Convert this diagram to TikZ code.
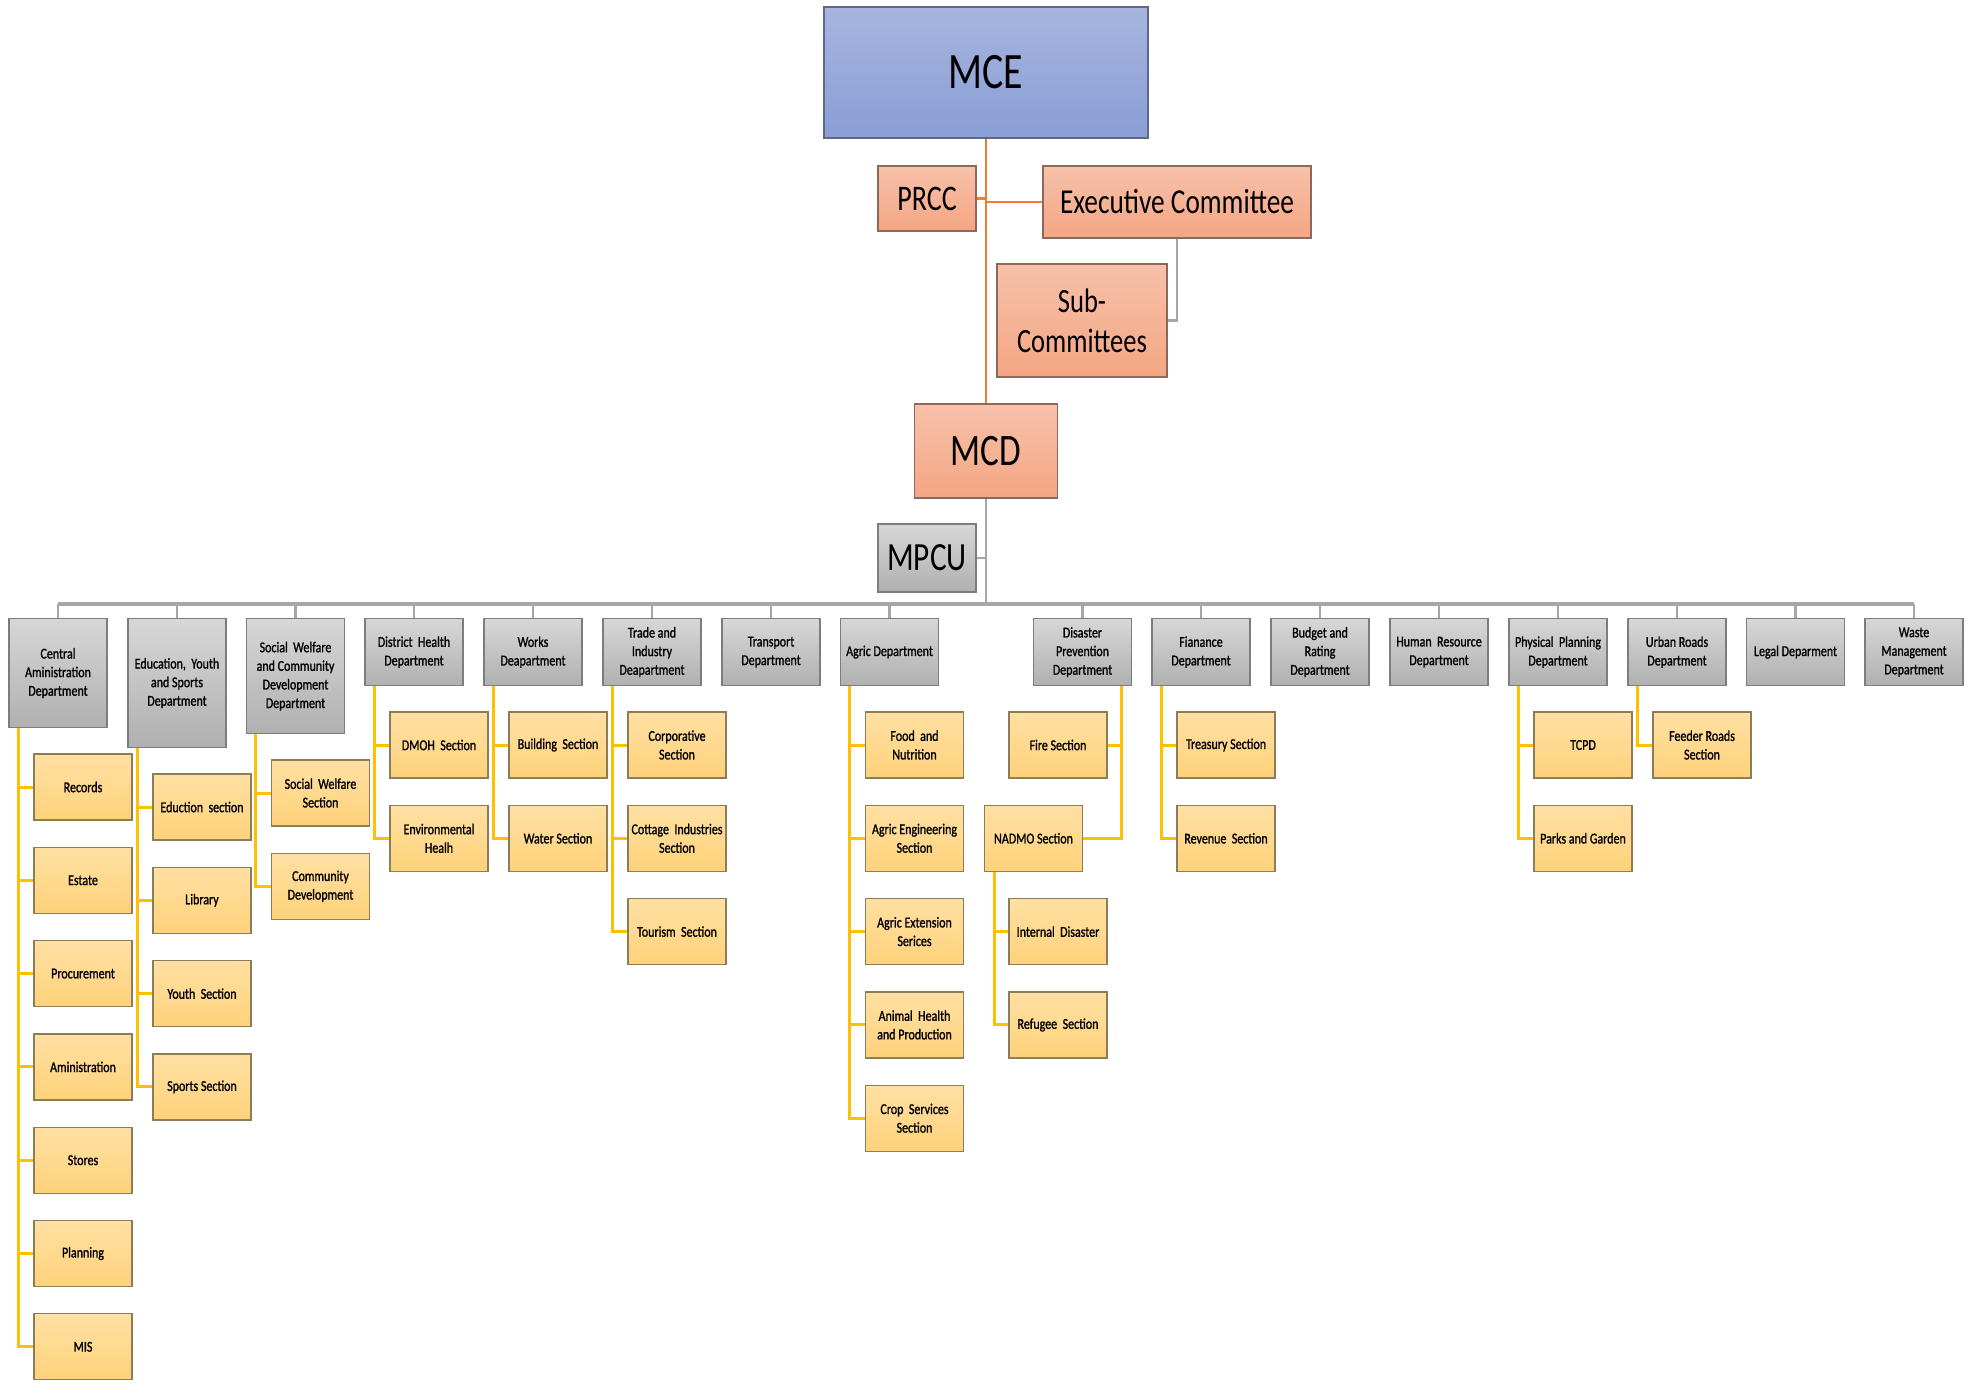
\documentclass[tikz,border=0pt]{standalone}
\usepackage{fontspec}
\newfontfamily\cf[FakeStretch=0.78]{Carlito}
\newfontfamily\cfs[FakeStretch=0.8,FakeBold=1.2]{Carlito}
\definecolor{mceT}{RGB}{167,181,223}
\definecolor{mceB}{RGB}{137,158,214}
\definecolor{mceD}{RGB}{95,105,135}
\definecolor{orT}{RGB}{247,193,170}
\definecolor{orB}{RGB}{244,166,131}
\definecolor{orD}{RGB}{140,105,90}
\definecolor{grT}{RGB}{215,215,215}
\definecolor{grB}{RGB}{176,176,176}
\definecolor{grD}{RGB}{125,125,125}
\definecolor{yeT}{RGB}{255,224,163}
\definecolor{yeB}{RGB}{255,210,122}
\definecolor{yeD}{RGB}{140,125,90}
\definecolor{lnO}{RGB}{237,125,49}
\definecolor{lnG}{RGB}{166,166,166}
\definecolor{lnY}{RGB}{255,192,0}
\tikzset{
  box/.style={rectangle, inner sep=0pt, align=center, line width=1.2pt},
  topbox/.style={box, top color=mceT, bottom color=mceB, draw=mceD},
  orbox/.style={box, top color=orT, bottom color=orB, draw=orD},
  mpbox/.style={box, top color=grT, bottom color=grB, draw=grD},
  dept/.style={box, top color=grT, bottom color=grB, draw=grD, minimum width=98pt, minimum height=67pt, anchor=north,
    font=\cfs\fontsize{15}{18.6}\selectfont},
  sect/.style={box, top color=yeT, bottom color=yeB, draw=yeD, minimum width=98pt, minimum height=66pt,
    font=\cfs\fontsize{15}{18.6}\selectfont},
  ol/.style={draw=lnO, line width=2.2pt},
  gl/.style={draw=lnG, line width=2.2pt},
  busline/.style={draw=lnG, line width=3.4pt},
  yl/.style={draw=lnY, line width=3pt},
}
\begin{document}
\begin{tikzpicture}[x=1pt,y=-1pt]
\useasboundingbox (0,0) rectangle (1969,1384);
% top part
\node[topbox, minimum width=324pt, minimum height=131pt, font=\cf\fontsize{51}{56}\selectfont] (mce) at (986,72.5) {MCE};
\node[orbox, minimum width=98pt, minimum height=65pt, font=\cf\fontsize{36}{40}\selectfont] (prcc) at (927,198.5) {PRCC};
\node[orbox, minimum width=268pt, minimum height=72pt, font=\cf\fontsize{35}{40}\selectfont] (exec) at (1177,202) {Executive Committee};
\node[orbox, minimum width=170pt, minimum height=113pt, font=\cf\fontsize{34}{40}\selectfont] (sub) at (1082,320.5) {Sub-\\Committees};
\node[orbox, minimum width=143pt, minimum height=94pt, font=\cf\fontsize{45}{50}\selectfont] (mcd) at (986,451) {MCD};
\node[mpbox, minimum width=98pt, minimum height=68pt, font=\cf\fontsize{40}{44}\selectfont] (mpcu) at (927,558) {MPCU};
\coordinate (busL) at (58,604);
\coordinate (busR) at (1914,604);
% connectors top
\draw[ol] (mce.south) -- (mce.south |- mcd.north);
\draw[ol] (prcc.east) -- (prcc.east -| mce.south);
\draw[ol] (exec.west) -- (exec.west -| mce.south);
\draw[gl] (exec.south) |- (sub.east);
\draw[gl] (mcd.south) -- (mcd.south |- busL);
\draw[gl] (mpcu.east) -- (mpcu.east -| mcd.south);
\draw[busline] (busL) -- (busR);
% departments
\node[dept, minimum height=109pt] (d1) at (58,618) {Central\\Aministration\\Department};
\node[dept, minimum height=129pt] (d2) at (177,618) {Education,\ \ Youth\\and Sports\\Department};
\node[dept, minimum height=115pt] (d3) at (295.5,618) {Social\ \ Welfare\\and Community\\Development\\Department};
\node[dept] (d4) at (414,618) {District\ \ Health\\Department};
\node[dept] (d5) at (533,618) {Works\\Deapartment};
\node[dept] (d6) at (652,618) {Trade and\\Industry\\Deapartment};
\node[dept] (d7) at (771,618) {Transport\\Department};
\node[dept] (d8) at (889.5,618) {Agric Department};
\node[dept] (d9) at (1082.5,618) {Disaster\\Prevention\\Department};
\node[dept] (d10) at (1201,618) {Fianance\\Department};
\node[dept] (d11) at (1320,618) {Budget and\\Rating\\Department};
\node[dept] (d12) at (1439,618) {Human\ \ Resource\\Department};
\node[dept] (d13) at (1558,618) {Physical\ \ Planning\\Department};
\node[dept] (d14) at (1677,618) {Urban Roads\\Department};
\node[dept] (d15) at (1795.5,618) {Legal Deparment};
\node[dept] (d16) at (1914,618) {Waste\\Management\\Department};
\foreach \d in {d1,d2,d3,d4,d5,d6,d7,d8,d9,d10,d11,d12,d13,d14,d15,d16}
  \draw[gl] (\d.north) -- (\d.north |- busL);
% Central administration sections
\node[sect] (s1a) at (83,787) {Records};
\node[sect] (s1b) at (83,880.3) {Estate};
\node[sect] (s1c) at (83,973.6) {Procurement};
\node[sect] (s1d) at (83,1066.9) {Aministration};
\node[sect] (s1e) at (83,1160.2) {Stores};
\node[sect] (s1f) at (83,1253.5) {Planning};
\node[sect] (s1g) at (83,1346.8) {MIS};
\foreach \s in {s1a,s1b,s1c,s1d,s1e,s1f,s1g}
  \draw[yl] ([xshift=-40pt]d1.south) |- (\s.west);
% Education
\node[sect] (s2a) at (202,807) {Eduction\ \ section};
\node[sect] (s2b) at (202,900.3) {Library};
\node[sect] (s2c) at (202,993.6) {Youth\ \ Section};
\node[sect] (s2d) at (202,1086.9) {Sports Section};
\foreach \s in {s2a,s2b,s2c,s2d}
  \draw[yl] ([xshift=-40pt]d2.south) |- (\s.west);
% Social welfare
\node[sect] (s3a) at (320.5,793) {Social\ \ Welfare\\Section};
\node[sect] (s3b) at (320.5,886.3) {Community\\Development};
\foreach \s in {s3a,s3b}
  \draw[yl] ([xshift=-40pt]d3.south) |- (\s.west);
% District health
\node[sect] (s4a) at (439,745) {DMOH\ \ Section};
\node[sect] (s4b) at (439,838.3) {Environmental\\Healh};
\foreach \s in {s4a,s4b}
  \draw[yl] ([xshift=-40pt]d4.south) |- (\s.west);
% Works
\node[sect] (s5a) at (558,745) {Building\ \ Section};
\node[sect] (s5b) at (558,838.3) {Water Section};
\foreach \s in {s5a,s5b}
  \draw[yl] ([xshift=-40pt]d5.south) |- (\s.west);
% Trade
\node[sect] (s6a) at (677,745) {Corporative\\Section};
\node[sect] (s6b) at (677,838.3) {Cottage\ \ Industries\\Section};
\node[sect] (s6c) at (677,931.6) {Tourism\ \ Section};
\foreach \s in {s6a,s6b,s6c}
  \draw[yl] ([xshift=-40pt]d6.south) |- (\s.west);
% Agric
\node[sect] (s8a) at (914.5,745) {Food\ \ and\\Nutrition};
\node[sect] (s8b) at (914.5,838.3) {Agric Engineering\\Section};
\node[sect] (s8c) at (914.5,931.6) {Agric Extension\\Serices};
\node[sect] (s8d) at (914.5,1024.9) {Animal\ \ Health\\and Production};
\node[sect] (s8e) at (914.5,1118.2) {Crop\ \ Services\\Section};
\foreach \s in {s8a,s8b,s8c,s8d,s8e}
  \draw[yl] ([xshift=-40pt]d8.south) |- (\s.west);
% Disaster
\node[sect] (s9a) at (1058,745) {Fire Section};
\node[sect] (s9b) at (1033.5,838.3) {NADMO Section};
\node[sect] (s9c) at (1058,931.6) {Internal\ \ Disaster};
\node[sect] (s9d) at (1058,1024.9) {Refugee\ \ Section};
\foreach \s in {s9a,s9b}
  \draw[yl] ([xshift=38.5pt]d9.south) |- (\s.east);
\foreach \s in {s9c,s9d}
  \draw[yl] ([xshift=-39.5pt]s9b.south) |- (\s.west);
% Finance
\node[sect] (s10a) at (1226,745) {Treasury Section};
\node[sect] (s10b) at (1226,838.3) {Revenue\ \ Section};
\foreach \s in {s10a,s10b}
  \draw[yl] ([xshift=-40pt]d10.south) |- (\s.west);
% Physical planning
\node[sect] (s13a) at (1583,745) {TCPD};
\node[sect] (s13b) at (1583,838.3) {Parks and Garden};
\foreach \s in {s13a,s13b}
  \draw[yl] ([xshift=-40pt]d13.south) |- (\s.west);
% Urban roads
\node[sect] (s14a) at (1702,745) {Feeder Roads\\Section};
\draw[yl] ([xshift=-40pt]d14.south) |- (s14a.west);
\end{tikzpicture}
\end{document}
